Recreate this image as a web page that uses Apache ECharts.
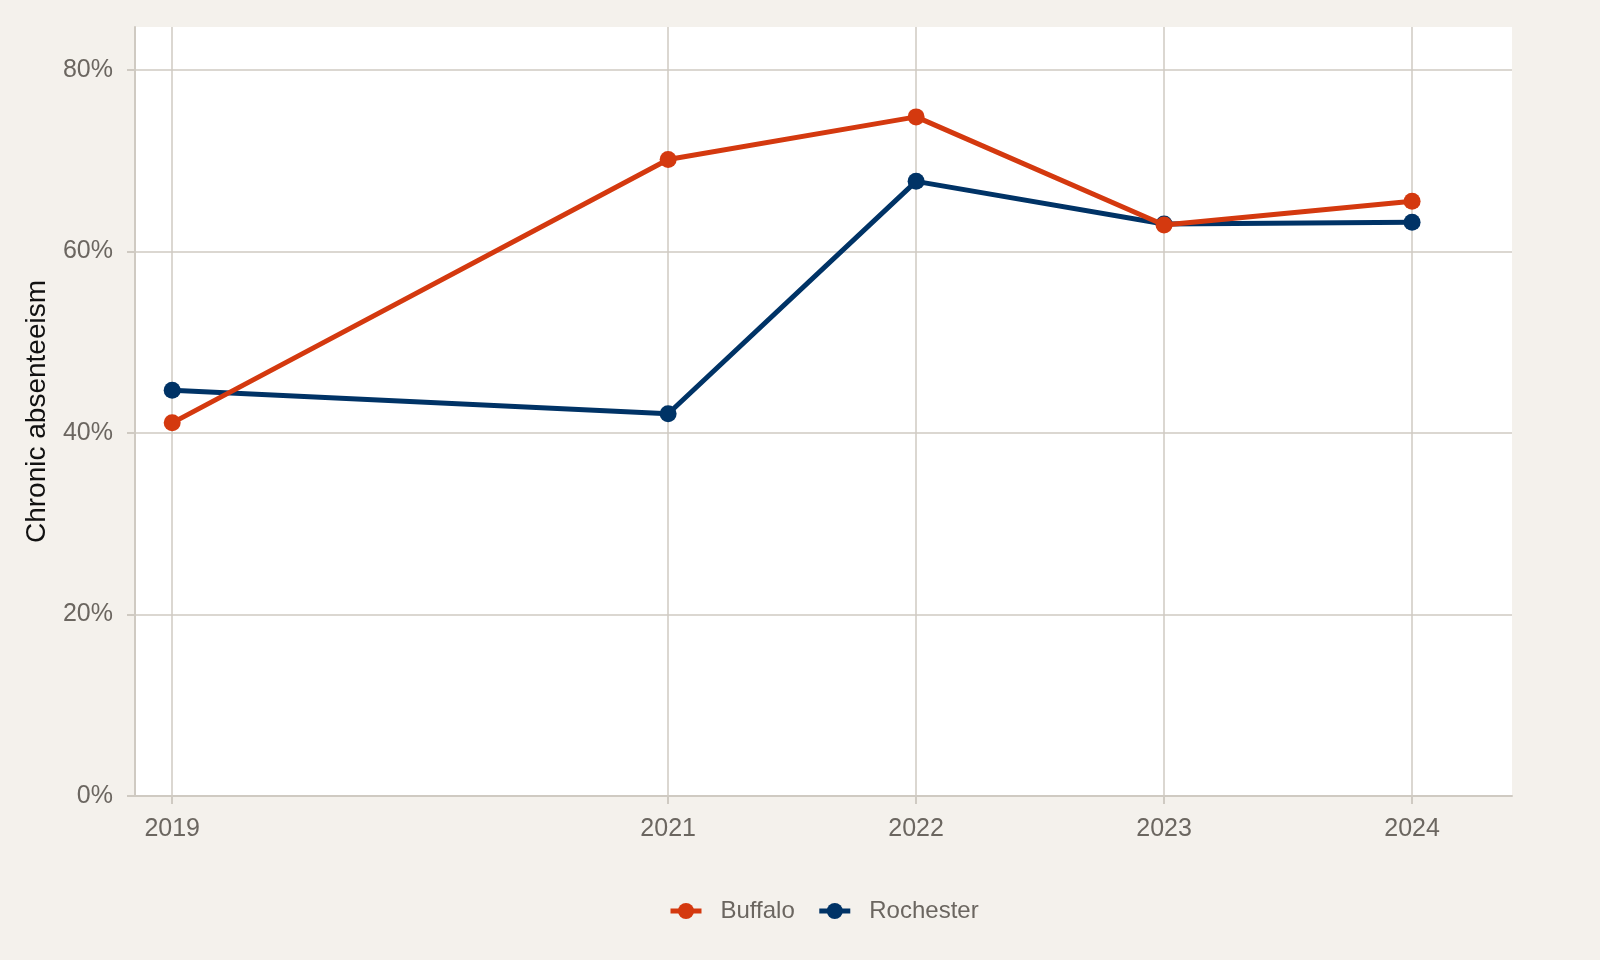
<!DOCTYPE html>
<html>
<head>
<meta charset="utf-8">
<script src="https://cdn.jsdelivr.net/npm/echarts@6/dist/echarts.min.js"></script>
<style>
  html, body { margin: 0; padding: 0; background: #f4f1ec; }
  #chart { width: 1600px; height: 960px; }
</style>
</head>
<body>
<div id="chart"></div>
<script>
const years = [2019, 2021, 2022, 2023, 2024];
const buffalo = [41.1, 70.1, 74.8, 62.9, 65.5];
const rochester = [44.7, 42.1, 67.7, 63.0, 63.2];
const yTicks = [0, 20, 40, 60, 80];

const chart = echarts.init(document.getElementById('chart'));
const gridColor = '#cfcac2';
const labelColor = '#6b6660';

const toPoints = vals => years.map((y, i) => [y, vals[i]]);

const option = {
  backgroundColor: '#f4f1ec',
  textStyle: { fontFamily: 'Liberation Sans, Arial, sans-serif' },
  grid: { left: 135, right: 88, top: 27, bottom: 164, backgroundColor: '#ffffff', show: true, borderWidth: 0 },
  legend: {
    bottom: 32,
    left: 663,
    itemWidth: 31,
    itemHeight: 20,
    itemGap: 22,
    lineStyle: { width: 5 },
    textStyle: { fontSize: 24, color: labelColor, padding: [0, 0, 0, 14] },
    data: ['Buffalo', 'Rochester']
  },
  xAxis: {
    type: 'value',
    min: 2018.85,
    max: 2024.403,
    axisLine: { show: true, onZero: false, lineStyle: { color: gridColor, width: 2 } },
    axisTick: { show: true, length: 8, customValues: years, lineStyle: { color: gridColor, width: 2 } },
    axisLabel: { customValues: years, fontSize: 25, color: labelColor, margin: 21, formatter: v => String(v) },
    splitLine: { show: true, lineStyle: { color: gridColor, width: 1.5 } }
  },
  yAxis: {
    type: 'value',
    min: 0,
    max: 84.7,
    name: 'Chronic absenteeism',
    nameLocation: 'middle',
    nameGap: 84,
    nameTextStyle: { fontSize: 28, color: '#111111' },
    axisLine: { show: true, lineStyle: { color: gridColor, width: 2 } },
    axisTick: { show: true, length: 8, customValues: yTicks, lineStyle: { color: gridColor, width: 2 } },
    axisLabel: { customValues: yTicks, fontSize: 25, color: labelColor, margin: 22, formatter: v => v + '%' },
    splitLine: { show: true, lineStyle: { color: gridColor, width: 1.5 } }
  },
  series: [
    {
      name: 'Buffalo',
      type: 'line',
      data: toPoints(buffalo),
      symbol: 'circle',
      symbolSize: 17,
      lineStyle: { width: 5, color: '#d4390f' },
      itemStyle: { color: '#d4390f' },
      z: 3
    },
    {
      name: 'Rochester',
      type: 'line',
      data: toPoints(rochester),
      symbol: 'circle',
      symbolSize: 17,
      lineStyle: { width: 5, color: '#003366' },
      itemStyle: { color: '#003366' },
      z: 2
    }
  ]
};

chart.setOption(option);
</script>
</body>
</html>
